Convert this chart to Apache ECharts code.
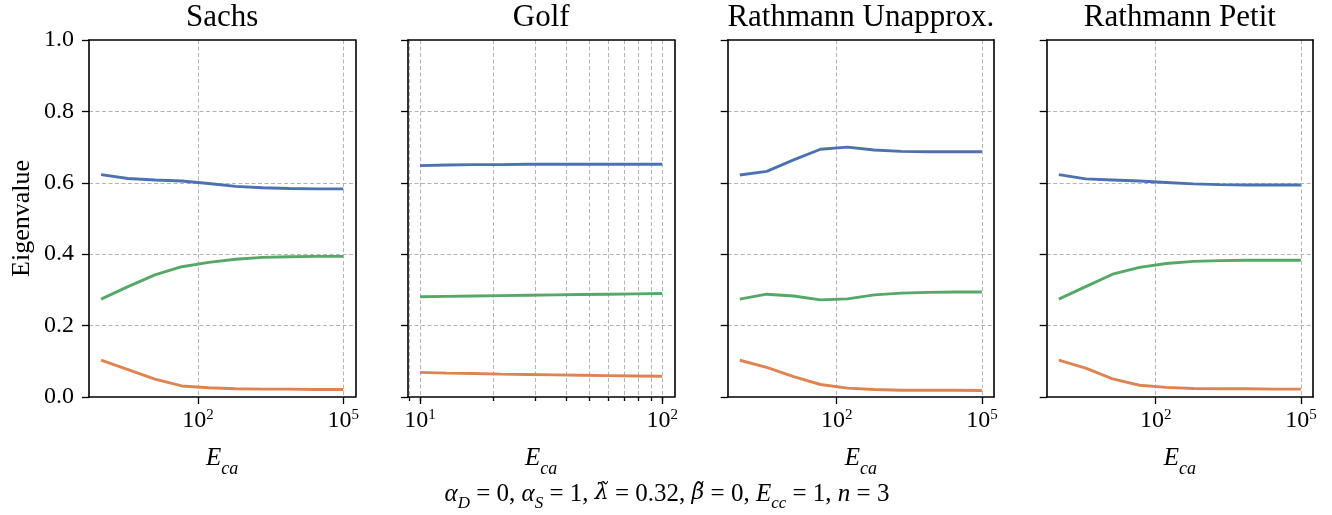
<!DOCTYPE html>
<html>
<head>
<meta charset="utf-8">
<script src="https://cdn.jsdelivr.net/npm/echarts@6/dist/echarts.min.js"></script>
<style>
  html, body { margin: 0; padding: 0; background: #ffffff; }
  #chart { width: 1332px; height: 515px; }
</style>
</head>
<body>
<div id="chart"></div>
<script>
// Panel titles
const panelTitles = ['Sachs', 'Golf', 'Rathmann Unapprox.', 'Rathmann Petit'];

// E_ca sample points (log-spaced)
const ecaWide = [1, 3.594, 12.92, 46.42, 166.8, 599.5, 2154, 7743, 27826, 100000];
const ecaGolf = [10, 12.92, 16.68, 21.54, 27.83, 35.94, 46.42, 59.95, 77.43, 100];

// Tick values
const yTicks = [0, 0.2, 0.4, 0.6, 0.8, 1.0];
const xTicksWide = [100, 100000];
const xTicksGolf = [10, 100];
const xGridGolf = [9, 10, 20, 30, 40, 50, 60, 70, 80, 90, 100];

// Eigenvalues per model (blue, orange, green branches)
const sachsBlue   = [0.623, 0.612, 0.608, 0.605, 0.598, 0.590, 0.586, 0.584, 0.583, 0.583];
const sachsOrange = [0.103, 0.077, 0.050, 0.031, 0.026, 0.023, 0.022, 0.022, 0.021, 0.021];
const sachsGreen  = [0.274, 0.309, 0.342, 0.365, 0.377, 0.386, 0.391, 0.393, 0.394, 0.394];

const golfBlue   = [0.648, 0.650, 0.651, 0.651, 0.652, 0.652, 0.652, 0.652, 0.652, 0.652];
const golfOrange = [0.069, 0.067, 0.066, 0.064, 0.063, 0.062, 0.061, 0.060, 0.059, 0.058];
const golfGreen  = [0.281, 0.282, 0.283, 0.284, 0.285, 0.286, 0.287, 0.288, 0.289, 0.290];

const unapproxBlue   = [0.622, 0.632, 0.664, 0.694, 0.700, 0.692, 0.688, 0.687, 0.687, 0.687];
const unapproxOrange = [0.103, 0.083, 0.057, 0.035, 0.025, 0.021, 0.019, 0.019, 0.019, 0.018];
const unapproxGreen  = [0.274, 0.288, 0.283, 0.272, 0.275, 0.286, 0.291, 0.293, 0.294, 0.294];

const petitBlue   = [0.623, 0.611, 0.608, 0.605, 0.601, 0.597, 0.595, 0.594, 0.594, 0.594];
const petitOrange = [0.103, 0.081, 0.051, 0.033, 0.027, 0.024, 0.023, 0.023, 0.022, 0.022];
const petitGreen  = [0.274, 0.309, 0.344, 0.363, 0.374, 0.380, 0.382, 0.383, 0.383, 0.383];

const panels = [
  { xs: ecaWide, lines: [sachsBlue, sachsOrange, sachsGreen] },
  { xs: ecaGolf, lines: [golfBlue, golfOrange, golfGreen] },
  { xs: ecaWide, lines: [unapproxBlue, unapproxOrange, unapproxGreen] },
  { xs: ecaWide, lines: [petitBlue, petitOrange, petitGreen] }
];

const lineColors = ['#4C72B0', '#DD8452', '#55A868'];
const FONT = "'Liberation Serif', 'DejaVu Serif', serif";
const ACCENT_FONT = "'DejaVu Serif', serif";

// Layout of the four panels
const gridLefts = [89, 408, 727.7, 1046.7];
const gridWidth = 266.3;
const gridTop = 40;
const gridHeight = 357;

const dashStyle = { color: '#b4b4b4', width: 1, type: [4, 2.5] };
const xGridLine = { show: true, showMinLine: true, showMaxLine: true, lineStyle: dashStyle };
const yGridLine = { show: true, showMinLine: false, showMaxLine: false, lineStyle: dashStyle };
const spine = { show: true, onZero: false, lineStyle: { color: '#000', width: 1.6 } };

const powRich = {
  b: { fontFamily: FONT, fontSize: 24, lineHeight: 24, color: '#000', verticalAlign: 'bottom' },
  s: { fontFamily: FONT, fontSize: 15, lineHeight: 15, color: '#000', verticalAlign: 'bottom', padding: [0, 0, 10, 0] }
};
const powFormatter = v => '{b|10}{s|' + Math.round(Math.log10(v)) + '}';

const grids = gridLefts.map(l => ({
  left: l, top: gridTop, width: gridWidth, height: gridHeight,
  show: false, containLabel: false
}));

function logRange(golf) {
  return golf
    ? { min: Math.pow(10, 0.95), max: Math.pow(10, 2.05) }
    : { min: Math.pow(10, -0.25), max: Math.pow(10, 5.25) };
}

const xAxes = panels.map((p, i) => {
  const golf = i === 1;
  return Object.assign({
    type: 'log', logBase: 10, gridIndex: i, position: 'bottom',
    axisLine: spine,
    axisTick: {
      show: true, length: golf ? 4 : 7, inside: false,
      lineStyle: { color: '#000', width: 1.3 },
      customValues: golf ? xGridGolf : xTicksWide
    },
    minorTick: { show: false },
    axisLabel: {
      show: true, margin: 12,
      customValues: golf ? xTicksGolf : xTicksWide,
      formatter: powFormatter, rich: powRich
    },
    splitLine: xGridLine
  }, logRange(golf));
});
// Longer major ticks on the Golf panel
xAxes.push(Object.assign({
  type: 'log', logBase: 10, gridIndex: 1, position: 'bottom',
  axisLine: { show: false },
  axisTick: { show: true, length: 7, lineStyle: { color: '#000', width: 1.3 }, customValues: xTicksGolf },
  axisLabel: { show: false },
  splitLine: { show: false },
  minorTick: { show: false }
}, logRange(true)));
// Top spines
panels.forEach((p, i) => {
  xAxes.push(Object.assign({
    type: 'log', logBase: 10, gridIndex: i, position: 'top',
    axisLine: spine, axisTick: { show: false }, axisLabel: { show: false },
    splitLine: { show: false }, minorTick: { show: false }
  }, logRange(i === 1)));
});

const yAxes = panels.map((p, i) => ({
  type: 'value', gridIndex: i, position: 'left',
  min: yTicks[0], max: yTicks[yTicks.length - 1], interval: 0.2,
  axisLine: spine,
  axisTick: { show: true, length: 7, lineStyle: { color: '#000', width: 1.3 } },
  axisLabel: {
    show: i === 0, margin: 15, color: '#000', fontFamily: FONT, fontSize: 24,
    formatter: v => v.toFixed(1)
  },
  splitLine: yGridLine
}));
// Right spines
panels.forEach((p, i) => {
  yAxes.push({
    type: 'value', gridIndex: i, position: 'right',
    min: yTicks[0], max: yTicks[yTicks.length - 1], interval: 0.2,
    axisLine: spine, axisTick: { show: false }, axisLabel: { show: false },
    splitLine: { show: false }
  });
});

const series = [];
panels.forEach((p, i) => {
  p.lines.forEach((ys, k) => {
    series.push({
      type: 'line', xAxisIndex: i, yAxisIndex: i,
      data: p.xs.map((x, j) => [x, ys[j]]),
      showSymbol: false, symbol: 'none', smooth: false,
      lineStyle: { color: lineColors[k], width: 2.9 },
      itemStyle: { color: lineColors[k] },
      z: 3
    });
  });
});

// Text: titles, axis labels, caption
const graphics = [];
gridLefts.forEach((l, i) => {
  const cx = l + gridWidth / 2;
  graphics.push({
    type: 'text', x: cx, y: 18,
    style: { text: panelTitles[i], font: '31px ' + FONT, fill: '#000', align: 'center', verticalAlign: 'middle' }
  });
  graphics.push({
    type: 'text', x: cx, y: 446,
    style: {
      text: '{e|E}{sub|ca}', align: 'center', verticalAlign: 'top',
      rich: {
        e: { fontFamily: FONT, fontStyle: 'italic', fontSize: 25, lineHeight: 25, fill: '#000', verticalAlign: 'top' },
        sub: { fontFamily: FONT, fontStyle: 'italic', fontSize: 18, lineHeight: 18, fill: '#000', verticalAlign: 'top', padding: [14, 0, 0, 0] }
      }
    }
  });
});
graphics.push({
  type: 'text', x: 22, y: 218.5, rotation: Math.PI / 2,
  style: { text: 'Eigenvalue', font: '26px ' + FONT, fill: '#000', align: 'center', verticalAlign: 'middle' }
});
graphics.push({
  type: 'text', x: 667, y: 482,
  style: {
    text: '{i|α}{s|D}{r| = 0, }{i|α}{s|S}{r| = 1, }{a|λ̃}{r| = 0.32, }{a|β̃}{r| = 0, }{i|E}{s|cc}{r| = 1, }{i|n}{r| = 3}',
    align: 'center', verticalAlign: 'top',
    rich: {
      i: { fontFamily: FONT, fontStyle: 'italic', fontSize: 25, lineHeight: 25, fill: '#000', verticalAlign: 'top' },
      a: { fontFamily: ACCENT_FONT, fontStyle: 'italic', fontSize: 22, lineHeight: 25, fill: '#000', verticalAlign: 'top' },
      r: { fontFamily: FONT, fontSize: 25, lineHeight: 25, fill: '#000', verticalAlign: 'top' },
      s: { fontFamily: FONT, fontStyle: 'italic', fontSize: 17, lineHeight: 17, fill: '#000', verticalAlign: 'top', padding: [13, 0, 0, 0] }
    }
  }
});

const chart = echarts.init(document.getElementById('chart'), null, { renderer: 'canvas' });
chart.setOption({
  animation: false,
  backgroundColor: '#ffffff',
  grid: grids,
  xAxis: xAxes,
  yAxis: yAxes,
  series: series,
  graphic: graphics
});
</script>
</body>
</html>
